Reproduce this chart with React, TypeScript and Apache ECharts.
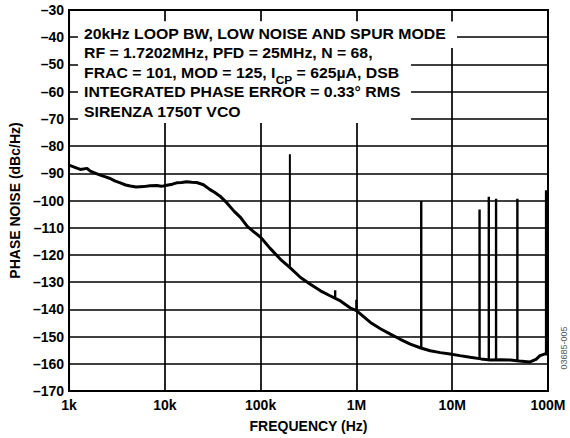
import React, { useEffect, useRef } from "react";
import * as echarts from "echarts";

// Phase noise curve
const curveFreq = [
  1000, 1150, 1311, 1540, 1667, 1900, 2120, 2400, 2695, 3000, 3425, 3900, 4354, 5000, 6000, 7000, 8250, 9200,
  10500, 12000, 13300, 15000, 16900, 19000, 21500, 25300, 29600, 33000, 37700, 44200, 52700, 61900, 72600,
  85000, 100000, 125000, 161000, 200000, 261000, 330000, 422000, 530000, 681000, 866000, 1000000, 1400000,
  1800000, 2260000, 2870000, 3650000, 4700000, 5900000, 7500000, 9500000, 12000000, 15400000, 20000000,
  24900000, 32000000, 40200000, 50000000, 64900000, 75000000, 82500000, 96800000, 100000000,
];
const curveDb = [
  -87, -87.8, -88.6, -88.2, -89.2, -90, -90.7, -91.3, -91.9, -92.8, -93.5, -94.3, -94.7, -95, -94.9, -94.6, -94.5,
  -94.8, -94.4, -94, -93.5, -93.4, -93.1, -93.3, -93.4, -94.2, -96, -97, -98.4, -100.8, -103.9, -106.3, -109.5,
  -111.5, -113.5, -117.5, -121.6, -124.5, -128.3, -130.8, -133.2, -135, -136.9, -139.5, -140.5, -144.8, -147.2,
  -149.1, -151, -152.8, -154.2, -155.2, -155.9, -156.4, -157, -157.6, -158.2, -158.6, -158.5, -158.6, -159,
  -159.3, -158.4, -157, -156.2, -156.5,
];

// Spurs
const spurFreq = [202000, 600000, 1000000, 4750000, 19300000, 24100000, 28700000, 47900000, 95500000];
const spurTop = [-83, -133, -136.5, -100.2, -103.3, -98.6, -99.4, -99.4, -96.2];
const spurBase = [-124.8, -135.5, -140.5, -154.2, -158.2, -158.6, -158.6, -159.1, -156.4];

const xTickLabels = ["1k", "10k", "100k", "1M", "10M", "100M"];

const infoLines = [
  "20kHz LOOP BW, LOW NOISE AND SPUR MODE",
  "RF = 1.7202MHz, PFD = 25MHz, N = 68,",
  "FRAC = 101, MOD = 125, I{sub|CP} = 625\u00b5A, DSB",
  "INTEGRATED PHASE ERROR = 0.33\u00b0 RMS",
  "SIRENZA 1750T VCO",
];

const FONT = "'Liberation Sans', Arial, Helvetica, sans-serif";

export default function App() {
  const ref = useRef<HTMLDivElement>(null);
  useEffect(() => {
    if (!ref.current) return;
    const chart = echarts.init(ref.current, null, { renderer: "svg" });
    const curve = curveFreq.map((f, i) => [f, curveDb[i]]);
    const spurSeries = spurFreq.map((f, i) => ({
      type: "line",
      data: [
        [f, spurBase[i]],
        [f, spurTop[i]],
      ],
      symbol: "none",
      lineStyle: { color: "#000", width: i === 0 ? 2 : 2.4 },
      z: 3,
    }));
    const textEls = infoLines.map((t, i) => ({
      type: "text",
      x: 84,
      y: 33.5 + i * 19.5,
      scaleX: 1.13,
      z: 101,
      style: {
        text: t,
        fill: "#000",
        fontFamily: FONT,
        fontWeight: "bold",
        fontSize: 14,
        align: "left",
        verticalAlign: "middle",
        rich: {
          sub: {
            fontFamily: FONT,
            fontWeight: "bold",
            fontSize: 10.5,
            fill: "#000",
            padding: [9, 0, 0, 0],
            lineHeight: 12,
            verticalAlign: "top",
          },
        },
      },
    }));
    chart.setOption({
      animation: false,
      backgroundColor: "#fff",
      grid: {
        left: 68,
        right: 22,
        top: 10,
        bottom: 46,
        show: true,
        borderColor: "#000",
        borderWidth: 2,
      },
      xAxis: {
        type: "log",
        logBase: 10,
        min: 1000,
        max: 100000000,
        name: "FREQUENCY (Hz)",
        nameLocation: "middle",
        nameGap: 28,
        nameTextStyle: { fontFamily: FONT, fontWeight: "bold", fontSize: 14, color: "#000" },
        axisLine: { lineStyle: { color: "#000", width: 2 } },
        axisTick: { show: false },
        minorTick: { show: false },
        axisLabel: {
          margin: 7,
          fontFamily: FONT,
          fontWeight: "bold",
          fontSize: 14,
          color: "#000",
          formatter: (v: number) => xTickLabels[Math.round(Math.log10(v)) - 3] ?? "",
        },
        splitLine: { show: true, lineStyle: { color: "#000", width: 1.7 } },
      },
      yAxis: {
        type: "value",
        min: -170,
        max: -30,
        interval: 10,
        name: "PHASE NOISE (dBc/Hz)",
        nameLocation: "middle",
        nameGap: 44,
        nameTextStyle: { fontFamily: FONT, fontWeight: "bold", fontSize: 14, color: "#000" },
        axisLine: { show: true, lineStyle: { color: "#000", width: 2 } },
        axisTick: { show: false },
        axisLabel: {
          margin: 5,
          fontFamily: FONT,
          fontWeight: "bold",
          fontSize: 14,
          color: "#000",
          formatter: (v: number) => String(v).replace("-", "\u2013"),
        },
        splitLine: { show: true, lineStyle: { color: "#000", width: 1.7 } },
      },
      series: [
        {
          type: "line",
          data: curve,
          symbol: "none",
          lineStyle: { color: "#000", width: 3 },
          z: 4,
        },
        ...spurSeries,
      ],
      graphic: {
        elements: [
          { type: "rect", z: 100, shape: { x: 78, y: 21.5, width: 379, height: 26.5 }, style: { fill: "#fff" } },
          { type: "rect", z: 100, shape: { x: 78, y: 21.5, width: 333, height: 101.5 }, style: { fill: "#fff" } },
          ...textEls,
          {
            type: "text",
            x: 564,
            y: 348,
            rotation: Math.PI / 2,
            z: 101,
            style: {
              text: "03685-005",
              fill: "#555",
              fontFamily: FONT,
              fontSize: 9,
              align: "center",
              verticalAlign: "middle",
            },
          },
        ],
      },
    } as any);
    return () => chart.dispose();
  }, []);
  return <div ref={ref} style={{ width: 570, height: 438, position: "absolute", left: 0, top: 0 }} />;
}
